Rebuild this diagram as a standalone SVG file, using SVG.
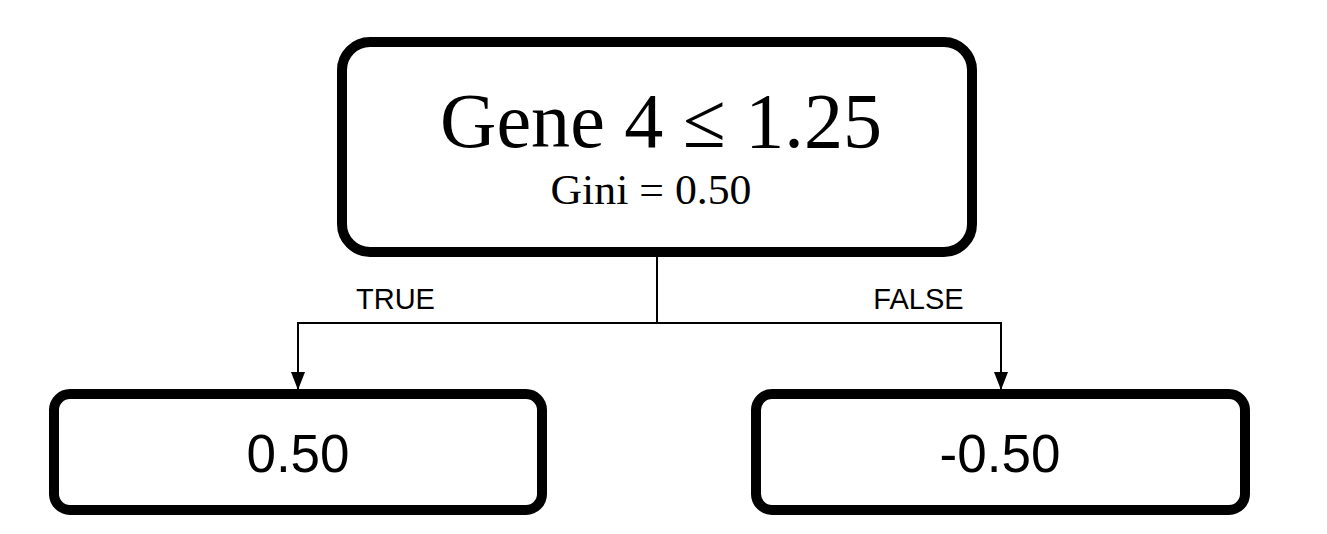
<svg xmlns="http://www.w3.org/2000/svg" width="1327" height="534" viewBox="0 0 1327 534">
<style>
.box{fill:#fff;stroke:#000;stroke-width:10}
.conn{fill:none;stroke:#000;stroke-width:2}
.serif{font-family:"Liberation Serif","DejaVu Serif",serif;fill:#000}
.sans{font-family:"Liberation Sans",Arial,sans-serif;fill:#000}
</style>
<defs>
<marker id="arr" viewBox="0 0 18 14" refX="18" refY="7" markerWidth="18" markerHeight="14" markerUnits="userSpaceOnUse" orient="auto">
<path d="M0,0 L18,7 L0,14 z" fill="#000"/>
</marker>
</defs>
<g id="connectors">
<path class="conn" d="M657,257 V323 H298 V390" marker-end="url(#arr)"/>
<path class="conn" d="M657,323 H1001 V390" marker-end="url(#arr)"/>
<text class="sans" x="395.5" y="309" font-size="29" text-anchor="middle">TRUE</text>
<text class="sans" x="918.5" y="309" font-size="29" text-anchor="middle">FALSE</text>
</g>
<g id="root">
<rect class="box" x="342" y="42" width="630" height="210" rx="28"/>
<text class="serif" x="661" y="147" font-size="78" text-anchor="middle" textLength="442" lengthAdjust="spacingAndGlyphs">Gene 4 ≤ 1.25</text>
<text class="serif" x="651" y="204" font-size="42" text-anchor="middle" textLength="201" lengthAdjust="spacingAndGlyphs">Gini = 0.50</text>
</g>
<g id="leaf-true">
<rect class="box" x="54" y="394" width="488" height="116" rx="16"/>
<text class="sans" x="298" y="472" font-size="53" text-anchor="middle">0.50</text>
</g>
<g id="leaf-false">
<rect class="box" x="756" y="394" width="489" height="116" rx="16"/>
<text class="sans" x="1000" y="472" font-size="53" text-anchor="middle">-0.50</text>
</g>
</svg>
